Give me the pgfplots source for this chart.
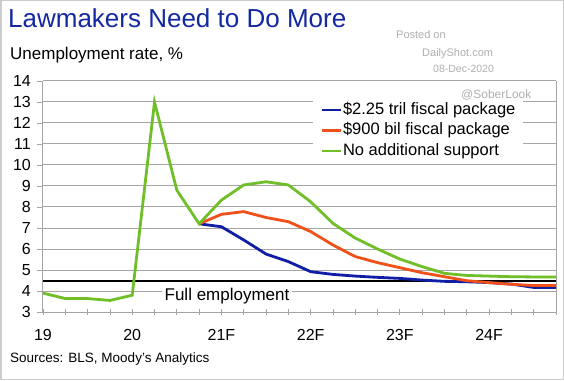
\documentclass[border=0pt]{standalone}
\usepackage{pgfplots}
\pgfplotsset{compat=1.18}
\usepackage{fontspec}
\setmainfont{Liberation Sans}
\definecolor{tblue}{RGB}{20,40,160}
\definecolor{sblue}{RGB}{15,30,165}
\definecolor{sorange}{RGB}{240,80,25}
\definecolor{sgreen}{RGB}{112,190,40}
\definecolor{wm}{RGB}{175,175,175}
\definecolor{gridc}{RGB}{165,165,165}
\begin{document}
\begin{tikzpicture}[x=1pt,y=1pt]
\useasboundingbox (0,0) rectangle (564,380);
\fill[white] (0,0) rectangle (564,380);
\draw[gray!40, line width=1.5pt] (0.75,0.75) rectangle (563.25,379.25);
\node[anchor=base west, inner sep=0, text=tblue, font=\fontsize{26}{30}\selectfont] at (8,352) {Lawmakers Need to Do More};
\node[anchor=base west, inner sep=0, font=\fontsize{17}{20}\selectfont] at (10,320) {Unemployment rate, \%};
\node[anchor=base west, inner sep=0, text=wm, font=\fontsize{11}{13}\selectfont] at (396,341) {Posted on};
\node[anchor=base west, inner sep=0, text=wm, font=\fontsize{11}{13}\selectfont] at (422,323) {DailyShot.com};
\node[anchor=base west, inner sep=0, text=wm, font=\fontsize{10.5}{13}\selectfont] at (433,307) {08-Dec-2020};
\node[anchor=base west, inner sep=0, font=\fontsize{13.5}{16}\selectfont] at (10,18) {Sources: BLS, Moody's Analytics};
\begin{axis}[
  at={(43pt,68pt)}, anchor=south west,
  width=513pt, height=231pt, scale only axis,
  xmin=0, xmax=23, ymin=3, ymax=14,
  xtick={0,4,8,12,16,20},
  xticklabels={19,20,21F,22F,23F,24F},
  minor xtick={0,...,23},
  ytick={3,...,14},
  ymajorgrids,
  grid style={gridc, line width=1pt},
  axis line style={gridc, line width=1pt},
  axis x line*=bottom, axis y line*=left,
  tick style={gridc, line width=0.8pt},
  xtick align=center, ytick align=outside,
  major tick length=6pt, minor tick length=6pt,
  /pgf/number format/assume math mode=true,
  tick label style={font=\fontsize{16}{18}\selectfont, inner sep=0pt},
  x tick label style={anchor=base, yshift=-25pt},
  y tick label style={anchor=east, xshift=-6pt},
  legend style={draw=none, fill=white, at={(rel axis cs:0.5263,0.9329)}, anchor=north west,
    inner xsep=7pt, inner ysep=4pt, row sep=2pt,
    font=\fontsize{16.5}{18}\selectfont,
    nodes={inner sep=1pt, text height=12.5pt, text depth=4pt}},
  legend cell align=left,
  legend image code/.code={\draw[#1] (0pt,0pt) -- (19pt,0pt);},
  clip=false,
]
\draw[gridc, line width=1pt] (rel axis cs:1,0) -- (rel axis cs:1,1);
\addplot[black, line width=2pt, forget plot] coordinates {(0,4.5) (23,4.5)};
\addplot[sblue, line width=2.8pt] coordinates {
(7,7.2) (8,7.06) (9,6.43) (10,5.76) (11,5.4) (12,4.92) (13,4.79) (14,4.71) (15,4.65) (16,4.6) (17,4.52) (18,4.46) (19,4.44) (20,4.4) (21,4.33) (22,4.17) (23,4.17)};
\addlegendentry{\$2.25 tril fiscal package}
\addplot[sorange, line width=2.8pt] coordinates {
(7,7.2) (8,7.65) (9,7.78) (10,7.5) (11,7.3) (12,6.83) (13,6.19) (14,5.64) (15,5.35) (16,5.11) (17,4.87) (18,4.68) (19,4.49) (20,4.4) (21,4.32) (22,4.26) (23,4.26)};
\addlegendentry{\$900 bil fiscal package}
\addplot[sgreen, line width=2.8pt] coordinates {
(0,3.9) (1,3.64) (2,3.64) (3,3.55) (4,3.8) (5,13.0) (6,8.8) (7,7.2) (8,8.33) (9,9.05) (10,9.2) (11,9.05) (12,8.25) (13,7.22) (14,6.52) (15,6.0) (16,5.52) (17,5.16) (18,4.84) (19,4.74) (20,4.71) (21,4.68) (22,4.67) (23,4.67)};
\addlegendentry{No additional support}
\node[anchor=base, fill=white, inner xsep=3pt, inner ysep=2pt, font=\fontsize{17}{20}\selectfont] at (axis cs:8.25,3.57) {Full employment};
\end{axis}
\node[anchor=base west, inner sep=0, text=wm, font=\fontsize{12}{15}\selectfont] at (461,281) {@SoberLook};
\end{tikzpicture}
\end{document}
